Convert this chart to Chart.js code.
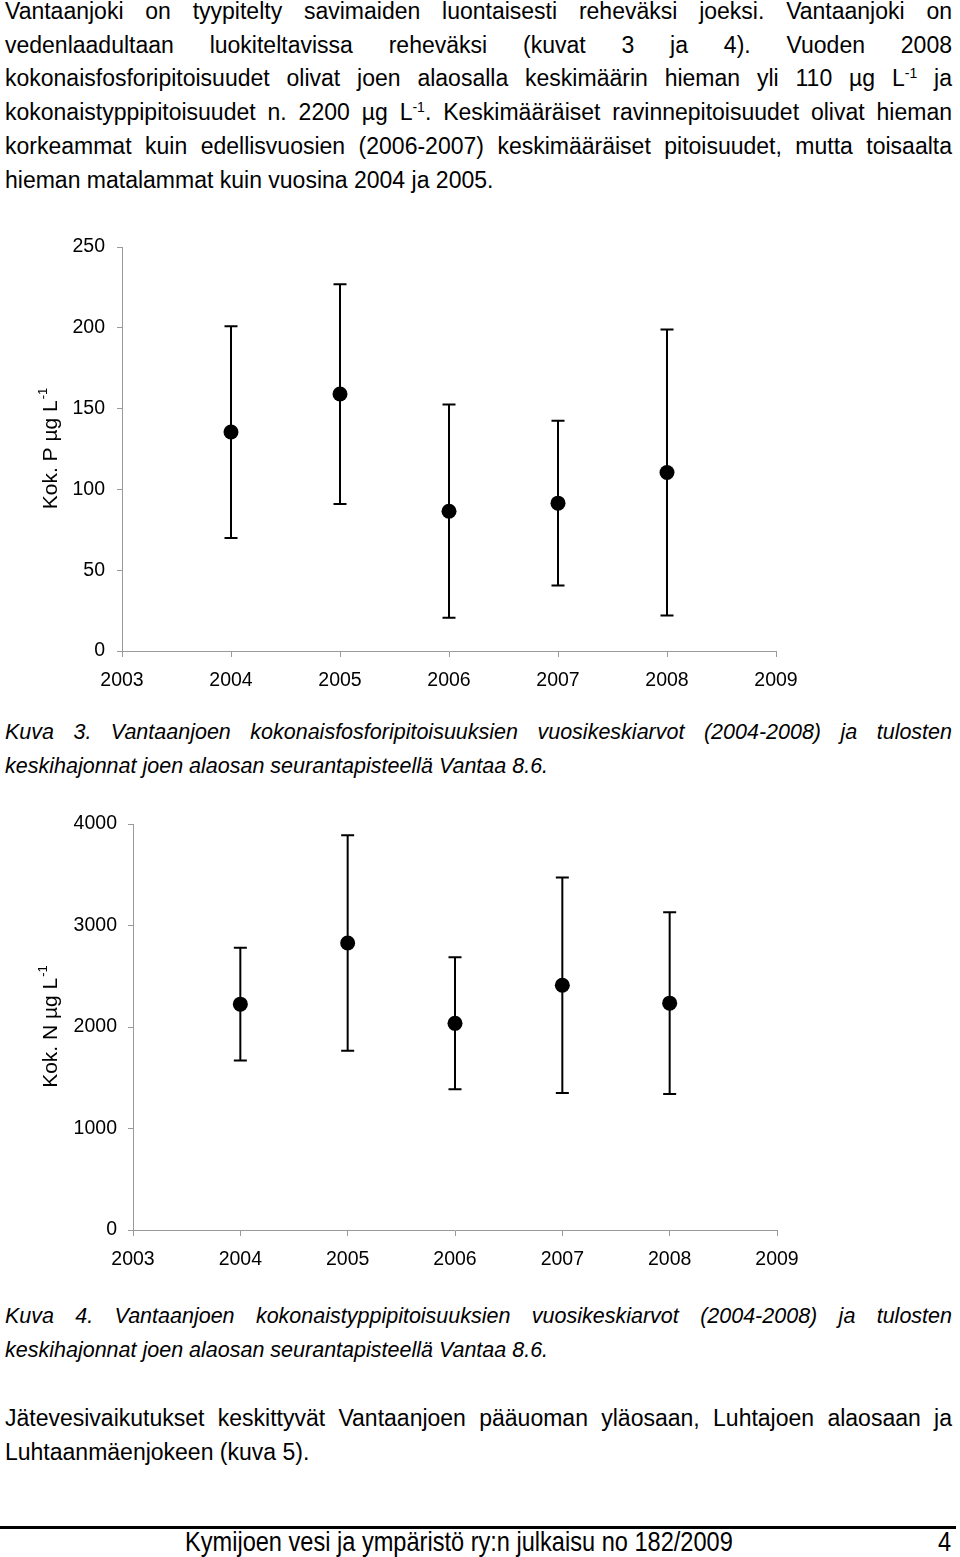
<!DOCTYPE html>
<html>
<head>
<meta charset="utf-8">
<script src="https://cdn.jsdelivr.net/npm/chart.js@4/dist/chart.umd.min.js"></script>
<style>
  body { margin: 0; width: 960px; height: 1557px; position: relative; background: #fff; color: #000;
         font-family: "Liberation Sans", Arial, sans-serif; overflow: hidden; }
  .ln { position: absolute; left: 5px; width: 947px; height: 34px; line-height: 34px; font-size: 23px; white-space: normal; }
  .j { text-align: justify; text-align-last: justify; }
  .cap { font-style: italic; font-size: 21.5px; }
  sup { font-size: 14px; line-height: 0; vertical-align: 8px; }
  canvas { position: absolute; left: 0; }
  .rule { position: absolute; left: 0; top: 1526px; width: 956px; height: 3px; background: #000; }
  .foot { position: absolute; top: 1527px; height: 30px; line-height: 30px; font-size: 28px; white-space: nowrap; transform-origin: 0 50%; transform: scaleX(0.842); }
</style>
</head>
<body>
<div class="ln j" style="top:-6px">Vantaanjoki on tyypitelty savimaiden luontaisesti reheväksi joeksi. Vantaanjoki on</div>
<div class="ln j" style="top:28px">vedenlaadultaan luokiteltavissa reheväksi (kuvat 3 ja 4). Vuoden 2008</div>
<div class="ln j" style="top:61px">kokonaisfosforipitoisuudet olivat joen alaosalla keskimäärin hieman yli 110 µg L<sup>-1</sup> ja</div>
<div class="ln j" style="top:95px">kokonaistyppipitoisuudet n. 2200 µg L<sup>-1</sup>. Keskimääräiset ravinnepitoisuudet olivat hieman</div>
<div class="ln j" style="top:129px">korkeammat kuin edellisvuosien (2006-2007) keskimääräiset pitoisuudet, mutta toisaalta</div>
<div class="ln" style="top:163px">hieman matalammat kuin vuosina 2004 ja 2005.</div>

<canvas id="chartP" width="840" height="470" style="top:230px"></canvas>

<div class="ln j cap" style="top:715px">Kuva 3. Vantaanjoen kokonaisfosforipitoisuuksien vuosikeskiarvot (2004-2008) ja tulosten</div>
<div class="ln cap" style="top:749px">keskihajonnat joen alaosan seurantapisteellä Vantaa 8.6.</div>

<canvas id="chartN" width="840" height="470" style="top:810px"></canvas>

<div class="ln j cap" style="top:1299px">Kuva 4. Vantaanjoen kokonaistyppipitoisuuksien vuosikeskiarvot (2004-2008) ja tulosten</div>
<div class="ln cap" style="top:1333px">keskihajonnat joen alaosan seurantapisteellä Vantaa 8.6.</div>

<div class="ln j" style="top:1401px">Jätevesivaikutukset keskittyvät Vantaanjoen pääuoman yläosaan, Luhtajoen alaosaan ja</div>
<div class="ln" style="top:1435px">Luhtaanmäenjokeen (kuva 5).</div>

<div class="rule"></div>
<div class="foot" style="left:185px">Kymijoen vesi ja ympäristö ry:n julkaisu no 182/2009</div>
<div class="foot" style="left:938px">4</div>

<script>
// Vantaa 8.6 yearly means and standard deviations
const years = [2004, 2005, 2006, 2007, 2008];

const pMean = [135.5, 159, 86.5, 91.5, 110.5];
const pSd   = [65.5, 68, 66, 51, 88.5];

const nMean = [2225, 2827, 2036, 2412, 2235];
const nSd   = [555, 1062, 650, 1062, 895];

const xTicks = [2003, 2004, 2005, 2006, 2007, 2008, 2009];
const pTicks = [0, 50, 100, 150, 200, 250];
const nTicks = [0, 1000, 2000, 3000, 4000];

const FONT = "'Liberation Sans', Arial, sans-serif";
const AXIS = "#9a9a9a";

// whiskers: mean +- sd, drawn through the chart scales
const errorBars = {
  id: "errorBars",
  beforeDatasetsDraw(chart) {
    const sd = chart.options.plugins.errorBars.sd;
    const { ctx, scales: { x, y } } = chart;
    const data = chart.data.datasets[0].data;
    ctx.save();
    ctx.strokeStyle = "#000";
    ctx.lineWidth = 2;
    data.forEach((pt, i) => {
      const px = x.getPixelForValue(pt.x);
      const top = y.getPixelForValue(pt.y + sd[i]);
      const bot = y.getPixelForValue(pt.y - sd[i]);
      ctx.beginPath();
      ctx.moveTo(px, top); ctx.lineTo(px, bot);
      ctx.moveTo(px - 6.5, top); ctx.lineTo(px + 6.5, top);
      ctx.moveTo(px - 6.5, bot); ctx.lineTo(px + 6.5, bot);
      ctx.stroke();
    });
    ctx.restore();
  }
};

// rotated y axis title with a superscript
const yTitle = {
  id: "yTitle",
  afterDraw(chart) {
    const opt = chart.options.plugins.yTitle;
    const { ctx, chartArea } = chart;
    const cy = (chartArea.top + chartArea.bottom) / 2;
    ctx.save();
    ctx.translate(opt.x, cy);
    ctx.rotate(-Math.PI / 2);
    ctx.fillStyle = "#000";
    ctx.textBaseline = "middle";
    ctx.font = "21px " + FONT;
    const mainW = ctx.measureText(opt.text).width;
    ctx.font = "13px " + FONT;
    const supW = ctx.measureText("-1").width;
    const start = -(mainW + supW) / 2;
    ctx.font = "21px " + FONT;
    ctx.fillText(opt.text, start, 0);
    ctx.font = "13px " + FONT;
    ctx.fillText("-1", start + mainW + 1, -8);
    ctx.restore();
  }
};

function makeChart(id, means, sds, yTicks, cfg) {
  const pts = years.map((yr, i) => ({ x: yr, y: means[i] }));
  return new Chart(document.getElementById(id), {
    type: "scatter",
    data: {
      datasets: [{
        data: pts,
        pointRadius: 7.5,
        pointHoverRadius: 7.5,
        pointBackgroundColor: "#000",
        pointBorderColor: "#000",
        pointBorderWidth: 0
      }]
    },
    options: {
      responsive: false,
      animation: false,
      events: [],
      layout: { padding: { top: cfg.padTop, right: cfg.padRight, left: 0, bottom: 0 } },
      scales: {
        x: {
          type: "linear",
          min: xTicks[0],
          max: xTicks[xTicks.length - 1],
          afterBuildTicks: s => { s.ticks = xTicks.map(v => ({ value: v })); },
          afterFit: s => { s.height = cfg.xHeight; s.paddingLeft = 0; s.paddingRight = 0; },
          ticks: {
            autoSkip: false, maxRotation: 0, padding: 12, color: "#000",
            font: { family: FONT, size: 19.5 },
            callback: v => String(v)
          },
          grid: { drawOnChartArea: false, drawTicks: true, tickLength: 6, color: AXIS },
          border: { display: true, color: AXIS, width: 1 }
        },
        y: {
          min: yTicks[0],
          max: yTicks[yTicks.length - 1],
          afterBuildTicks: s => { s.ticks = yTicks.map(v => ({ value: v })); },
          afterFit: s => { s.width = cfg.yWidth; s.paddingTop = 0; s.paddingBottom = 0; },
          ticks: {
            padding: cfg.yPad, color: "#000",
            font: { family: FONT, size: 19.5 },
            callback: v => String(v)
          },
          grid: { drawOnChartArea: false, drawTicks: true, tickLength: 5, color: AXIS },
          border: { display: true, color: AXIS, width: 1 }
        }
      },
      plugins: {
        legend: { display: false },
        tooltip: { enabled: false },
        errorBars: { sd: sds },
        yTitle: { text: cfg.title, x: 51 }
      }
    },
    plugins: [errorBars, yTitle]
  });
}

makeChart("chartP", pMean, pSd, pTicks, {
  title: "Kok. P µg L", padTop: 17, padRight: 64, xHeight: 49, yWidth: 122, yPad: 12
});

makeChart("chartN", nMean, nSd, nTicks, {
  title: "Kok. N µg L", padTop: 14, padRight: 63, xHeight: 50, yWidth: 133, yPad: 11
});
</script>
</body>
</html>
